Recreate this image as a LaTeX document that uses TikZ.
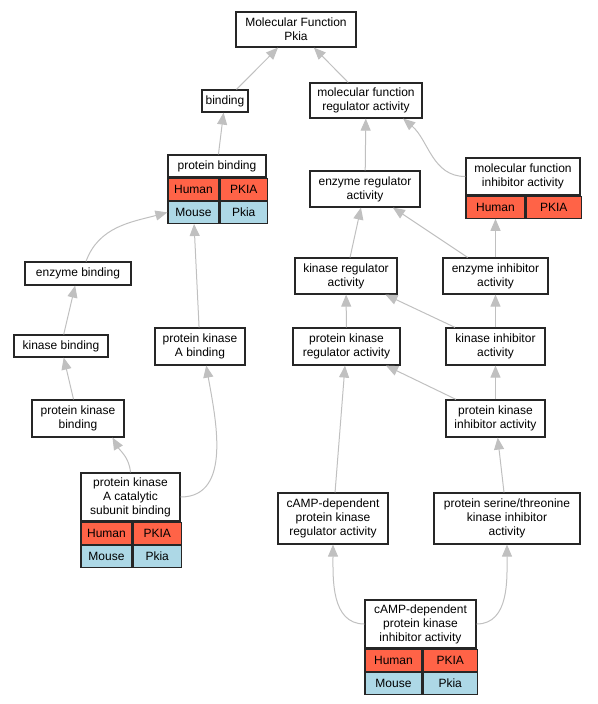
\documentclass[tikz,border=0pt]{standalone}
\usepackage{fontspec}
\setmainfont{Liberation Sans}
\usetikzlibrary{arrows.meta,calc}
\definecolor{HumanRojo}{RGB}{255,99,71}
\definecolor{MouseAzul}{RGB}{173,216,230}
\definecolor{AristaGris}{RGB}{192,192,192}
\colorlet{borde}{black!85}

\begin{document}
\begin{tikzpicture}[x=1pt,y=-1pt,
    term/.style={draw=borde,fill=white,line width=1.2pt,align=center,inner sep=0pt,
      font=\fontsize{12}{14}\selectfont},
    cell/.style={term,anchor=north west,minimum height=22pt},
    human/.style={cell,fill=HumanRojo},
    mouse/.style={cell,fill=MouseAzul},
    isa/.style={draw=AristaGris,line width=1pt,-{Triangle[length=12pt,width=10pt]}}]
  \useasboundingbox (0,0) rectangle (597,704);

  % terms
  \node[term,minimum width=120pt,minimum height=35pt] (mf) at (296,29.5) {Molecular Function\\Pkia};
  \node[term,minimum width=46pt,minimum height=22pt] (bind) at (225,101) {binding};
  \node[term,minimum width=112pt,minimum height=35pt] (mfra) at (366,100.5) {molecular function\\regulator activity};

  \node[term,minimum width=98pt,minimum height=22pt] (pb) at (217,166) {protein binding};
  \node[human,minimum width=51pt] (pbh1) at (pb.south west) {Human};
  \node[human,minimum width=47pt] (pbh2) at (pbh1.north east) {PKIA};
  \node[mouse,minimum width=51pt] (pbm1) at (pbh1.south west) {Mouse};
  \node[mouse,minimum width=47pt] (pbm2) at (pbm1.north east) {Pkia};

  \node[term,minimum width=114pt,minimum height=37pt] (mfia) at (523,176.5) {molecular function\\inhibitor activity};
  \node[human,minimum width=59pt] (mfiah1) at (mfia.south west) {Human};
  \node[human,minimum width=55pt] (mfiah2) at (mfiah1.north east) {PKIA};

  \node[term,minimum width=110pt,minimum height=36pt] (era) at (365,189) {enzyme regulator\\activity};
  \node[term,minimum width=106pt,minimum height=23pt] (eb) at (78,273.5) {enzyme binding};
  \node[term,minimum width=102pt,minimum height=36pt] (kra) at (346,276) {kinase regulator\\activity};
  \node[term,minimum width=105pt,minimum height=36pt] (eia) at (495.5,276) {enzyme inhibitor\\activity};

  \node[term,minimum width=94pt,minimum height=22pt] (kb) at (61,346) {kinase binding};
  \node[term,minimum width=90pt,minimum height=37pt] (pkab) at (200,346.5) {protein kinase\\A binding};
  \node[term,minimum width=107pt,minimum height=37pt] (pkra) at (346.5,346.5) {protein kinase\\regulator activity};
  \node[term,minimum width=99pt,minimum height=37pt] (kia) at (495.5,346.5) {kinase inhibitor\\activity};

  \node[term,minimum width=92pt,minimum height=37pt] (pkb) at (78,418.5) {protein kinase\\binding};
  \node[term,minimum width=99pt,minimum height=37pt] (pkia) at (495.5,418.5) {protein kinase\\inhibitor activity};

  \node[term,minimum width=99pt,minimum height=48pt] (pkacsb) at (130.5,497) {protein kinase\\A catalytic\\subunit binding};
  \node[human,minimum width=51pt] (pkacsbh1) at (pkacsb.south west) {Human};
  \node[human,minimum width=48pt] (pkacsbh2) at (pkacsbh1.north east) {PKIA};
  \node[mouse,minimum width=51pt] (pkacsbm1) at (pkacsbh1.south west) {Mouse};
  \node[mouse,minimum width=48pt] (pkacsbm2) at (pkacsbm1.north east) {Pkia};

  \node[term,minimum width=110pt,minimum height=51pt] (camppkra) at (333,518.5) {cAMP-dependent\\protein kinase\\regulator activity};
  \node[term,minimum width=146pt,minimum height=51pt] (pstkia) at (507,518.5) {protein serine/threonine\\kinase inhibitor\\activity};

  \node[term,minimum width=111pt,minimum height=48pt] (camppkia) at (420.5,624) {cAMP-dependent\\protein kinase\\inhibitor activity};
  \node[human,minimum width=57pt] (camppkiah1) at (camppkia.south west) {Human};
  \node[human,minimum width=54pt] (camppkiah2) at (camppkiah1.north east) {PKIA};
  \node[mouse,minimum width=57pt] (camppkiam1) at (camppkiah1.south west) {Mouse};
  \node[mouse,minimum width=54pt] (camppkiam2) at (camppkiam1.north east) {Pkia};

  % is_a links
  \draw[isa] (bind) -- (mf);
  \draw[isa] (mfra) -- (mf);
  \draw[isa] (pb) -- (bind);
  \draw[isa] (era) -- (mfra);
  \draw[isa] (mfia.west) to[out=180,in=-40] (mfra.-26);
  \draw[isa] ([xshift=8pt]eb.north) to[out=70,in=195] (pbm1.west);
  \draw[isa] (kra) -- (era);
  \draw[isa] (eia) -- (era);
  \draw[isa] (eia) -- (mfiah1);
  \draw[isa] (kb) -- (eb);
  \draw[isa] (pkab) -- (pbm1);
  \draw[isa] (pkra) -- (kra);
  \draw[isa] (kia) -- (kra);
  \draw[isa] (kia) -- (eia);
  \draw[isa] (pkb) -- (kb);
  \draw[isa] (pkia) -- (pkra);
  \draw[isa] (pkia) -- (kia);
  \draw[isa] (pkacsb.north) to[out=95,in=-60] (pkb.-29);
  \draw[isa] (pkacsb.east) to[out=0,in=-80] (pkab.-72);
  \draw[isa] (camppkra) -- (pkra);
  \draw[isa] (pstkia) -- (pkia);
  \draw[isa] (camppkia.west) to[out=180,in=-90] (camppkra.south);
  \draw[isa] (camppkia.east) to[out=0,in=-90] (pstkia.south);
\end{tikzpicture}
\end{document}
